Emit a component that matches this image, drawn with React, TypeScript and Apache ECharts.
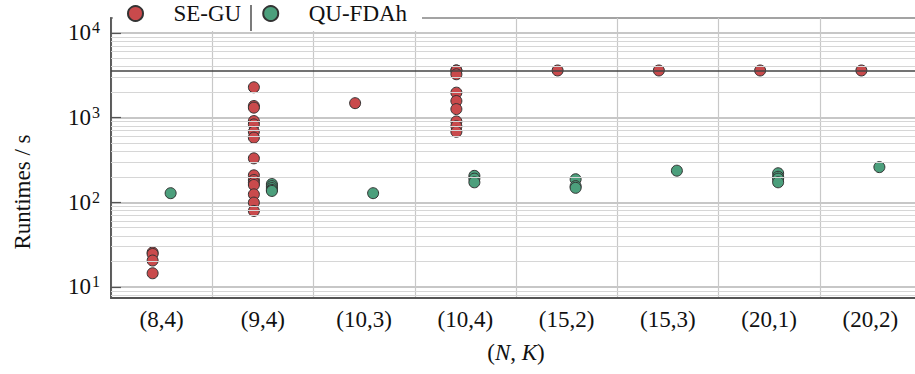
import { useEffect, useRef } from "react";
import * as echarts from "echarts";

const categories = ["(8,4)", "(9,4)", "(10,3)", "(10,4)", "(15,2)", "(15,3)", "(20,1)", "(20,2)"];

const seGuRuntimes: number[][] = [
  [25.5, 24.5, 20.5, 14.5],
  [2280, 1370, 1310, 910, 830, 680, 580, 330, 208, 183, 170, 160, 124, 99, 79],
  [1480],
  [3600, 3600, 3250, 1970, 1570, 1260, 900, 790, 680],
  [3600],
  [3600],
  [3600],
  [3600],
];

const quFdahRuntimes: number[][] = [
  [128],
  [164, 155, 147, 140, 136],
  [128],
  [205, 190, 172],
  [187, 155, 148],
  [236],
  [220, 200, 190, 172],
  [260],
];

const timeLimit = 3600;
const minorGridValues = [
  8, 9, 20, 30, 40, 50, 60, 70, 80, 90, 200, 300, 400, 500, 600, 700, 800, 900,
  2000, 3000, 4000, 5000, 6000, 7000, 8000, 9000,
];
const yMin = 7.4;
const yMax = 15000;

const FONT = "Liberation Serif";
const FS = 23;
const RED = "#C94A4C";
const GREEN = "#4C9F7C";

function toPoints(groups: number[][]) {
  const pts: [number, number][] = [];
  groups.forEach((vals, i) => vals.forEach((v) => pts.push([i, v])));
  return pts;
}

export default function App() {
  const ref = useRef<HTMLDivElement>(null);
  useEffect(() => {
    if (!ref.current) return;
    const chart = echarts.init(ref.current, undefined, { renderer: "svg" });
    chart.setOption({
      animation: false,
      backgroundColor: "#fff",
      textStyle: { fontFamily: FONT },
      grid: {
        left: 111,
        right: 0,
        top: 18,
        bottom: 76,
        show: true,
        borderColor: "#444",
        borderWidth: 1.4,
        backgroundColor: "transparent",
      },
      legend: {
        data: ["SE-GU", "QU-FDAh"],
        left: 127,
        top: 2,
        padding: 0,
        backgroundColor: "transparent",
        icon: "circle",
        itemWidth: 48,
        itemHeight: 15,
        itemGap: 21,
        formatter: "{t|{name}}",
        textStyle: {
          fontFamily: FONT,
          fontSize: FS,
          color: "#111",
          rich: {
            t: { fontFamily: FONT, fontSize: FS, color: "#111", padding: [0, 0, 0, 9] },
          },
        },
        z: 10,
      },
      graphic: [
        {
          type: "rect",
          z: 5,
          shape: { x: 113, y: 3, width: 309, height: 28 },
          style: { fill: "#fff" },
        },
        {
          type: "line",
          z: 100,
          shape: { x1: 251, y1: 5, x2: 251, y2: 31 },
          style: { stroke: "#333", lineWidth: 1.3 },
        },
        {
          type: "text",
          x: 22,
          y: 192,
          rotation: Math.PI / 2,
          style: {
            text: "Runtimes / s",
            fontFamily: FONT,
            fontSize: FS,
            fill: "#111",
            align: "center",
            verticalAlign: "middle",
          },
        },
      ],
      xAxis: {
        type: "category",
        data: categories,
        boundaryGap: true,
        axisLine: { show: true, lineStyle: { color: "#555", width: 1.8 } },
        axisTick: { show: false },
        axisLabel: {
          interval: 0,
          fontFamily: FONT,
          fontSize: FS,
          color: "#111",
          margin: 10,
        },
        splitLine: { show: true, interval: 0, lineStyle: { color: "#c8c8c8", width: 1.2 } },
        name: "{n|(}{i|N}{n|, }{i|K}{n|)}",
        nameLocation: "middle",
        nameGap: 43,
        nameTextStyle: {
          rich: {
            n: { fontFamily: FONT, fontSize: FS, color: "#111" },
            i: { fontFamily: FONT, fontSize: FS, color: "#111", fontStyle: "italic" },
          },
        },
      },
      yAxis: {
        type: "log",
        logBase: 10,
        min: yMin,
        max: yMax,
        axisLine: { show: true, lineStyle: { color: "#555", width: 1.8 } },
        axisTick: { show: true, inside: true, length: 10, lineStyle: { color: "#555", width: 1.2 } },
        axisLabel: {
          showMinLabel: false,
          showMaxLabel: false,
          margin: 11,
          formatter: (v: number) => `{b|10}{s|${Math.round(Math.log10(v))}}`,
          rich: {
            b: { fontFamily: FONT, fontSize: FS, color: "#111", lineHeight: 26 },
            s: { fontFamily: FONT, fontSize: 16, color: "#111", verticalAlign: "top", lineHeight: 14, padding: [0, 0, 12, 1] },
          },
        },
        splitLine: { show: true, lineStyle: { color: "#b5b5b5", width: 1.5 } },
      },
      series: [
        {
          name: "grid-helpers",
          type: "scatter",
          data: [],
          z: 1,
          silent: true,
          markLine: {
            silent: true,
            symbol: "none",
            label: { show: false },
            animation: false,
            data: [
              ...minorGridValues.map((v) => ({ yAxis: v, lineStyle: { color: "#d6d6d6", width: 1, type: "solid" } })),
              { yAxis: timeLimit, lineStyle: { color: "#444", width: 1.5, type: "solid" } },
            ],
          },
        },
        {
          name: "SE-GU",
          type: "scatter",
          data: toPoints(seGuRuntimes),
          symbol: "circle",
          symbolSize: 11,
          symbolOffset: [-9, 0],
          itemStyle: { color: RED, borderColor: "#333", borderWidth: 1, opacity: 1 },
          z: 3,
        },
        {
          name: "QU-FDAh",
          type: "scatter",
          data: toPoints(quFdahRuntimes),
          symbol: "circle",
          symbolSize: 11,
          symbolOffset: [9, 0],
          itemStyle: { color: GREEN, borderColor: "#333", borderWidth: 1, opacity: 1 },
          z: 3,
        },
      ],
    });
    return () => chart.dispose();
  }, []);
  return (
    <div style={{ position: "absolute", left: 0, top: 0, width: 915, height: 374, overflow: "hidden" }}>
      <div ref={ref} style={{ width: 921, height: 374 }} />
    </div>
  );
}
